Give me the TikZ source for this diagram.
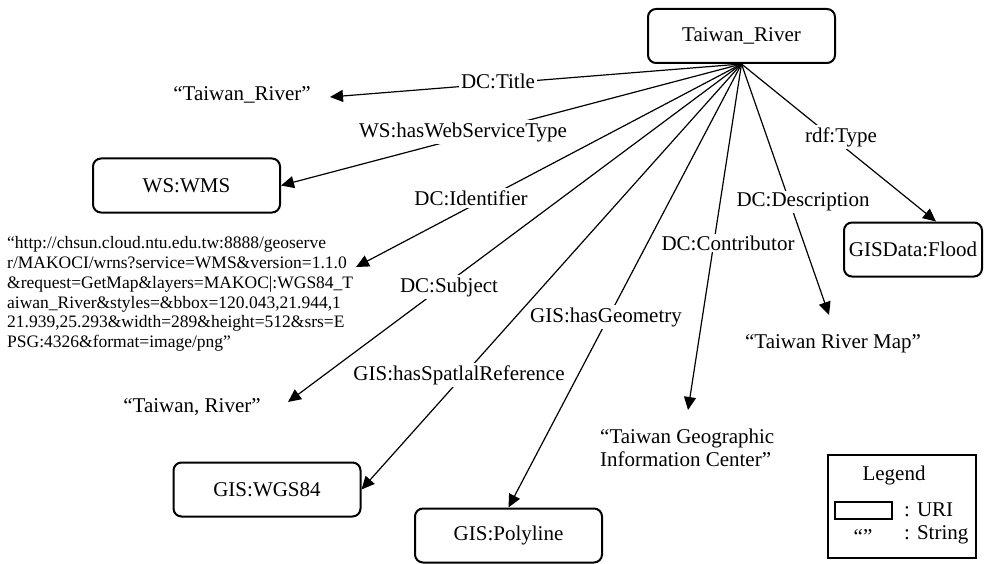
\documentclass[tikz,border=0pt]{standalone}
\usepackage{fontspec}
\setmainfont{Liberation Serif}
\usetikzlibrary{arrows.meta}
\begin{document}
\begin{tikzpicture}[x=1pt,y=-1pt,
  big/.style={font=\fontsize{21}{23}\selectfont},
  uri/.style={big, draw, line width=2pt, rounded corners=8pt, minimum width=187pt, minimum height=54pt, inner sep=0pt},
  lit/.style={big, inner sep=0pt},
  prop/.style={big, fill=white, inner sep=2pt},
  rel/.style={line width=1.2pt, -{Triangle[length=13pt,width=12pt]}},
]
\useasboundingbox (0,0) rectangle (984,564);

% resources
\node[uri] (river) at (741.5,36) {Taiwan\_River};
\node[uri] (wms) at (186.5,185.5) {WS:WMS};
\node[uri] (wgs) at (267,489.5) {GIS:WGS84};
\node[uri] (poly) at (508.5,535.5) {GIS:Polyline};
\node[uri, minimum width=138pt] (flood) at (913,249.5) {GISData:Flood};

% literals
\node[lit] (sTitle) at (242,95) {“Taiwan\_River”};
\node[lit] (sSubject) at (192,407) {“Taiwan, River”};
\node[lit] (sMap) at (833,344) {“Taiwan River Map”};
\node[lit, anchor=west, align=left] (sCenter) at (600,448) {“Taiwan Geographic\\Information Center”};
\node[inner sep=0pt, anchor=west, align=left, font=\fontsize{17.5}{19.8}\selectfont] (sURL) at (7,294)
  {“http://chsun.cloud.ntu.edu.tw:8888/geoserve\\
   r/MAKOCI/wrns?service=WMS\&version=1.1.0\\
   \&request=GetMap\&layers=MAKOC|:WGS84\_T\\
   aiwan\_River\&styles=\&bbox=120.043,21.944,1\\
   21.939,25.293\&width=289\&height=512\&srs=E\\
   PSG:4326\&format=image/png”};

% arrow ends at the literals
\coordinate (tTitle) at (330,97);
\coordinate (tIdent) at (356,267);
\coordinate (tSubject) at (288,402);
\coordinate (tContrib) at (688,410);
\coordinate (tDescr) at (829,315);

% properties
\draw[rel] (river.south) -- (tTitle);
\draw[rel] (river.south) -- (wms.east);
\draw[rel] (river.south) -- (tIdent);
\draw[rel] (river.south) -- (tSubject);
\draw[rel] (river.south) -- (wgs.east);
\draw[rel] (river.south) -- (poly.north);
\draw[rel] (river.south) -- (tContrib);
\draw[rel] (river.south) -- (tDescr);
\draw[rel] (river.south) -- ([xshift=23pt]flood.north);

\node[prop] (pTitle) at (498,81) {DC:Title};
\node[prop] (pWST) at (463,132) {WS:hasWebServiceType};
\node[prop] (pIdent) at (471,198) {DC:Identifier};
\node[prop] (pSubject) at (449,287) {DC:Subject};
\node[prop] (pSpatial) at (459,375) {GIS:hasSpatlalReference};
\node[prop] (pGeom) at (606,317) {GIS:hasGeometry};
\node[prop] (pContrib) at (728,243) {DC:Contributor};
\node[prop] (pDescr) at (803,202) {DC:Description};
\node[prop] (pType) at (841,137) {rdf:Type};

% legend
\node[draw, line width=2pt, minimum width=148pt, minimum height=103pt, inner sep=0pt] (legend) at (902,506.5) {};
\node[lit] (legTitle) at (894,475) {Legend};
\node[draw, line width=2pt, minimum width=57pt, minimum height=17pt, inner sep=0pt] (legBox) at (863.5,510.5) {};
\node[lit, anchor=west] (legURI) at (904,510) {: URI};
\node[lit] (legQuote) at (863,537) {“”};
\node[lit, anchor=west] (legStr) at (904,535) {: String};
\end{tikzpicture}
\end{document}
